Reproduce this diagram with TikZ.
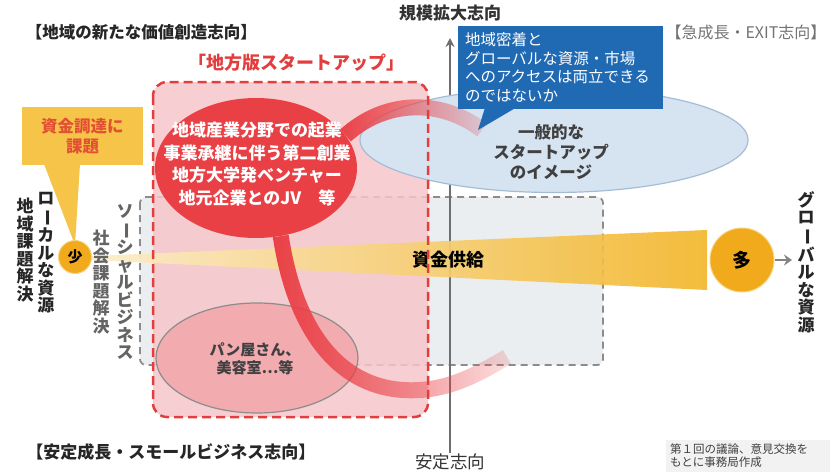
\documentclass[tikz,border=0pt]{standalone}
\usepackage{graphicx}
\usepackage{fontspec}
\setmainfont{Noto Sans CJK JP}
\usetikzlibrary{shapes.geometric, arrows.meta, positioning, calc, fadings}

\definecolor{pinkbox}{RGB}{246,198,201}
\definecolor{reddash}{RGB}{226,62,62}
\definecolor{redmain}{RGB}{233,64,70}
\definecolor{graybox}{RGB}{235,238,240}
\definecolor{graydash}{RGB}{140,140,140}
\definecolor{lightblue}{RGB}{214,228,241}
\definecolor{blueedge}{RGB}{165,188,214}
\definecolor{bluemsg}{RGB}{32,106,180}
\definecolor{yellowbar}{RGB}{242,182,42}
\definecolor{yellowdot}{RGB}{240,170,28}
\definecolor{yellowbox}{RGB}{245,196,72}
\definecolor{kadaired}{RGB}{226,80,52}
\definecolor{pinkoval}{RGB}{242,172,176}
\definecolor{axisgray}{RGB}{110,110,110}
\definecolor{textgray}{RGB}{100,100,100}

\newcommand{\jpsize}[2]{\fontsize{#1}{#2}\selectfont}
\newcommand{\tatebar}{\rotatebox[origin=c]{-90}{ー}}

\tikzfading[name=arcfade, left color=transparent!0, middle color=transparent!5, right color=transparent!85]

\begin{document}
\begin{tikzpicture}[x=1pt, y=-1pt]
\tikzstyle{headline} = [font=\bfseries\jpsize{16.5}{18}, text=black!85, inner sep=0]
\tikzstyle{redtitle} = [font=\bfseries\jpsize{18}{20}, text=reddash, inner sep=0]
\tikzstyle{vtext} = [align=center, font=\bfseries\jpsize{17}{17.5}, text=black!85, inner sep=0]
\tikzstyle{redoval} = [ellipse, fill=redmain, minimum width=202, minimum height=140, inner sep=0]
\tikzstyle{ovaltext} = [align=center, inner sep=0, text=white, font=\bfseries\jpsize{17}{22.5}]
\tikzstyle{panoval} = [ellipse, fill=pinkoval, draw=black!45, line width=1.2, minimum width=202, minimum height=110, inner sep=0]
\tikzstyle{pantext} = [align=center, inner sep=0, font=\bfseries\jpsize{15}{18}, text=black!75]
\tikzstyle{msgbox} = [rectangle, fill=bluemsg, text=white, minimum width=205, minimum height=81, text width=191, align=left, inner sep=7, font=\jpsize{15.5}{18.5}]
\tikzstyle{kadaibox} = [rectangle, fill=yellowbox, text=kadaired, minimum width=121, minimum height=58, align=center, inner sep=0, font=\bfseries\jpsize{16.5}{20}]
\tikzstyle{yelcirc} = [circle, fill=yellowdot, draw=yellowbar!60, line width=1, inner sep=0]
\tikzstyle{redarc} = [draw=redmain, line width=16]
\tikzstyle{axisline} = [draw=axisgray, line width=2.2, -{Stealth[length=9pt,width=9pt]}]
\tikzstyle{grayarrow} = [draw=axisgray!85, line width=2.5, -{Stealth[length=8pt,width=11pt]}]

\useasboundingbox (0,0) rectangle (831,474);

% zones
\draw[graydash, fill=graybox, line width=1.8, dash pattern=on 7pt off 5pt, rounded corners=6] (140,197) rectangle (603,365);
\fill[pinkbox, opacity=0.85, rounded corners=14] (153,82) rectangle (428,417);

% axis
\coordinate (axtop) at (450,38);
\coordinate (axbot) at (450,453);
\draw[axisline] (axbot) -- (axtop);
\node[font=\bfseries\jpsize{17}{18}, text=black!80, above=13pt of axtop] (kibo) {規模拡大志向};
\node[font=\jpsize{17.5}{18}, text=black!80, inner sep=0, below=1pt of axbot] (antei) {安定志向};

% general startup image
\node[ellipse, fill=lightblue, draw=blueedge, line width=1.2, minimum width=388, minimum height=105] (ippan) at (554,140) {};
\node[align=center, font=\bfseries\jpsize{16.5}{20}, text=black!75] (ippantxt) at (551,152) {一般的な\\スタートアップ\\のイメージ};

% funding bar
\shade[left color=yellowbar!25, right color=yellowbar, opacity=0.92] (92,256) -- (707,230) -- (707,290) -- (92,260) -- cycle;
\node[font=\bfseries\jpsize{18}{18}, text=black] (fund) at (448,260) {資金供給};

\fill[yellowbox] (44,164) -- (80,164) -- (75,245) -- cycle;
\node[kadaibox] (kadai) at (82.5,136) {資金調達に\\課題};
\node[yelcirc, minimum size=33, font=\bfseries\jpsize{15}{15}] (sho) at (75,257) {少};
\node[yelcirc, minimum size=64, font=\bfseries\jpsize{19}{19}] (ta) at (742,260) {多};
\coordinate (globend) at (792,260);
\draw[grayarrow] (ta) -- (globend);

% local startups
\node[redoval] (chiho) at (256,168) {};
\node[ovaltext] (chihotxt) at (257,164) {地域産業分野での起業\\事業承継に伴う第二創業\\地方大学発ベンチャー\\地元企業とのJV　等};
\node[panoval] (pan) at (257,358) {};
\node[pantext] (pantxt) at (255,359) {パン屋さん、\\美容室…等};
\draw[reddash, line width=2.5, dash pattern=on 9pt off 5pt, rounded corners=14] (153,82) rectangle (428,417);

\coordinate (upend) at (482,130);
\coordinate (lowend) at (507,357);
\draw[redarc, path fading=arcfade] (chiho.20) .. controls (385,100) and (440,98) .. (upend);
\draw[redarc, path fading=arcfade] (chiho.-70) .. controls (295,330) and (340,395) .. (420,390) .. controls (455,388) and (485,370) .. (lowend);

% message
\node[msgbox] (msg) at (560.5,67.5) {地域密着と\\グローバルな資源・市場\\へのアクセスは両立できる\\のではないか};
\coordinate (msgtip) at (478,130);
\fill[bluemsg] ($(msg.south west)+(27,-1)$) -- ($(msg.south west)+(57,-1)$) -- (msgtip) -- cycle;

% labels
\node[headline] (hchiiki) at (141.5,32) {【地域の新たな価値創造志向】};
\node[headline, font=\bfseries\jpsize{17}{18}] (hantei) at (171,452) {【安定成長・スモールビジネス志向】};
\node[headline, font=\jpsize{16}{18}, text=black!55] (hexit) at (746,32) {【急成長・EXIT志向】};
\node[redtitle] (htitle) at (296,63) {「地方版スタートアップ」};

\node[vtext] (local) at (46,253) {ロ\\\tatebar\\カ\\ル\\な\\資\\源};
\node[vtext] (kaiketsu) at (25,250) {地\\域\\課\\題\\解\\決};
\node[vtext, text=textgray] (social) at (125,282) {ソ\\\tatebar\\シ\\ャ\\ル\\ビ\\ジ\\ネ\\ス};
\node[vtext, text=textgray] (shakai) at (101,282) {社\\会\\課\\題\\解\\決};
\node[vtext] (glob) at (806,262) {グ\\ロ\\\tatebar\\バ\\ル\\な\\資\\源};

\node[fill=black!5, text width=156, align=left, inner sep=4, font=\jpsize{11.5}{13}, text=black!75] (note) at (748,456) {第１回の議論、意見交換を\\もとに事務局作成};
\end{tikzpicture}
\end{document}
